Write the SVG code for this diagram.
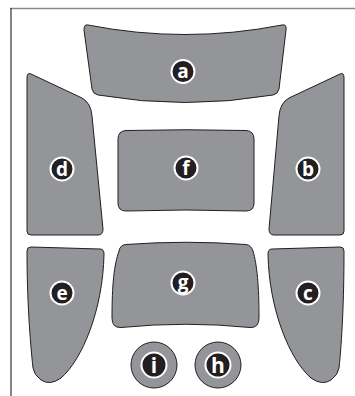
<svg xmlns="http://www.w3.org/2000/svg" width="355" height="396" viewBox="0 0 355 396">
<defs>
<style>
.panel{fill:#939598;stroke:#231f20;stroke-width:1}
.badge{fill:#231f20;stroke:#ffffff;stroke-width:2}
.lbl{font-family:"Open Sans","DejaVu Sans",sans-serif;font-weight:bold;font-size:19px;fill:#ffffff;text-anchor:middle}
.big{font-size:21px}
</style>
</defs>
<rect width="355" height="396" fill="#ffffff"/>
<g id="frame">
<line x1="10" y1="8.5" x2="355" y2="8.5" stroke="#8a8a8a" stroke-width="1.5"/>
<line x1="11" y1="8" x2="11" y2="396" stroke="#333333" stroke-width="1.2"/>
</g>
<g id="node-a">
<path class="panel" d="M88,25 Q185,44 282,25 Q287,24 286,30 L279,89 Q278,94 273,95 Q185,110 98,95 Q93,94 92,89 L84,30 Q84,24 88,25 Z"/>
<circle class="badge" cx="183" cy="71.5" r="11.5"/>
<text class="lbl" x="183" y="78">a</text>
</g>
<g id="node-d">
<path class="panel" d="M31,74 L82,98 Q91,103 92,116 L103,229 Q103,235 98,235 L31,235 Q27,235 27,231 L27,78 Q27,72 31,74 Z"/>
<circle class="badge" cx="62" cy="169" r="11.5"/>
<text class="lbl" x="62" y="175.5">d</text>
</g>
<g id="node-f">
<path class="panel" d="M126,130.5 Q186,129 246,130.5 Q254,131 254,139 L254,203 Q254,211 246,211 Q186,209 126,211 Q118,211 118,203 L118,139 Q118,131 126,130.5 Z"/>
<circle class="badge" cx="186" cy="168" r="11.5"/>
<text class="lbl" x="186" y="174.5">f</text>
</g>
<g id="node-b">
<path class="panel" d="M340,74 L289,98 Q280,103 279,116 L269,229 Q269,235 274,235 L340,235 Q344,235 344,231 L344,78 Q344,72 340,74 Z"/>
<circle class="badge" cx="308" cy="169" r="11.5"/>
<text class="lbl" x="308" y="175.5">b</text>
</g>
<g id="node-e">
<path class="panel" d="M31,247 L100,249 Q104,249 104,254 C103,310 82,360 61,378 Q50,386 41,380 Q34,375 33,368 C30,340 27,300 27,251 Q27,247 31,247 Z"/>
<circle class="badge" cx="62" cy="293" r="11.5"/>
<text class="lbl" x="62" y="299.5">e</text>
</g>
<g id="node-c">
<path class="panel" d="M340,247 L272,249 Q268,249 268,254 C269,310 290,360 311,378 Q322,386 331,380 Q338,375 339,368 C342,340 344,300 344,251 Q344,247 340,247 Z"/>
<circle class="badge" cx="308" cy="293" r="11.5"/>
<text class="lbl" x="308" y="299.5">c</text>
</g>
<g id="node-g">
<path class="panel" d="M126,244.5 Q186,240 246,244.5 Q251,245 253,251 C257,265 259,285 259,318 Q259,328 250,327.5 Q186,321 121,327.5 Q112,328 112,318 C112,285 114,265 119,251 Q120,245 126,244.5 Z"/>
<circle class="badge" cx="183" cy="283" r="11.5"/>
<text class="lbl" x="183" y="288.5">g</text>
</g>
<g id="node-i">
<circle class="panel" cx="154" cy="365" r="23"/>
<circle class="badge" cx="154" cy="365" r="12.5"/>
<text class="lbl big" x="154" y="372.5">i</text>
</g>
<g id="node-h">
<circle class="panel" cx="218" cy="365" r="23"/>
<circle class="badge" cx="218" cy="365" r="12.5"/>
<text class="lbl big" x="218" y="372.5">h</text>
</g>
<g id="connectors"></g>
</svg>
